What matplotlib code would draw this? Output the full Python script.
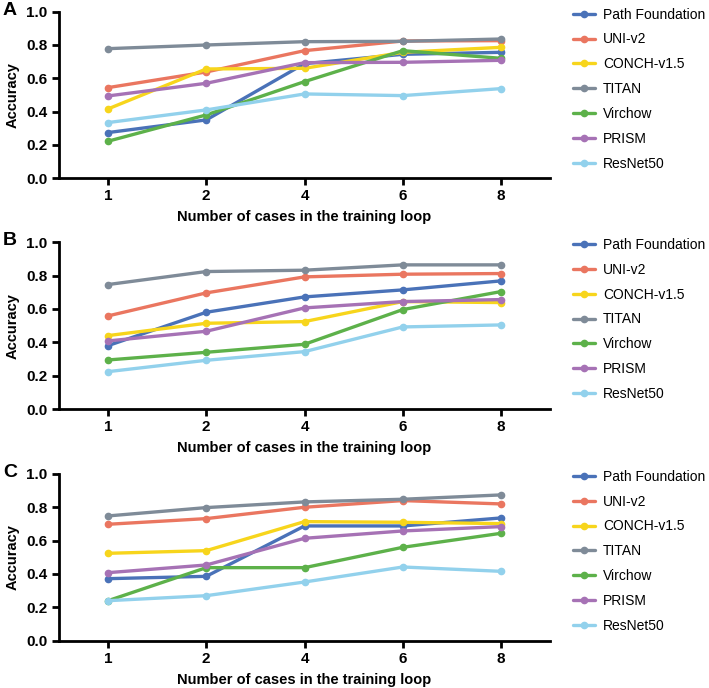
import numpy as np
import matplotlib.pyplot as plt

plt.rcParams['font.family'] = ['Liberation Sans', 'DejaVu Sans']

CASES = ["1", "2", "4", "6", "8"]
MODELS = ["Path Foundation", "UNI-v2", "CONCH-v1.5", "TITAN", "Virchow", "PRISM", "ResNet50"]
COLORS = ["#4a72b8", "#ea7660", "#f7d51c", "#7f8b98", "#5db14a", "#a672b5", "#92d1ec"]

# panel A
acc_a = {
    "Path Foundation": [0.274, 0.350, 0.688, 0.744, 0.756],
    "UNI-v2":          [0.544, 0.638, 0.766, 0.824, 0.826],
    "CONCH-v1.5":      [0.416, 0.656, 0.660, 0.756, 0.786],
    "TITAN":           [0.778, 0.800, 0.820, 0.822, 0.836],
    "Virchow":         [0.222, 0.380, 0.580, 0.766, 0.720],
    "PRISM":           [0.494, 0.570, 0.694, 0.696, 0.708],
    "ResNet50":        [0.334, 0.410, 0.506, 0.496, 0.538],
}
# panel B
acc_b = {
    "Path Foundation": [0.380, 0.580, 0.672, 0.714, 0.768],
    "UNI-v2":          [0.558, 0.696, 0.792, 0.808, 0.812],
    "CONCH-v1.5":      [0.440, 0.514, 0.524, 0.644, 0.638],
    "TITAN":           [0.746, 0.824, 0.832, 0.864, 0.864],
    "Virchow":         [0.294, 0.340, 0.388, 0.596, 0.704],
    "PRISM":           [0.408, 0.466, 0.606, 0.644, 0.656],
    "ResNet50":        [0.224, 0.292, 0.344, 0.492, 0.504],
}
# panel C
acc_c = {
    "Path Foundation": [0.372, 0.386, 0.688, 0.688, 0.736],
    "UNI-v2":          [0.698, 0.732, 0.800, 0.840, 0.820],
    "CONCH-v1.5":      [0.524, 0.540, 0.714, 0.710, 0.702],
    "TITAN":           [0.748, 0.798, 0.832, 0.848, 0.874],
    "Virchow":         [0.240, 0.438, 0.438, 0.560, 0.644],
    "PRISM":           [0.408, 0.454, 0.614, 0.658, 0.684],
    "ResNet50":        [0.240, 0.270, 0.352, 0.442, 0.416],
}

PANELS = [("A", acc_a), ("B", acc_b), ("C", acc_c)]
# axes boxes in figure fractions: left, bottom, width, height
BOXES = [
    [0.083, 0.741, 0.693, 0.242],
    [0.083, 0.4055, 0.693, 0.2425],
    [0.083, 0.0687, 0.693, 0.2425],
]

fig = plt.figure(figsize=(7.09, 6.88), dpi=100)
x = np.arange(len(CASES))

for (letter, data), box in zip(PANELS, BOXES):
    ax = fig.add_axes(box)
    for name, color in zip(MODELS, COLORS):
        ax.plot(x, data[name], color=color, lw=2.4, marker="o", ms=4.5,
                label=name, solid_capstyle="round")
    ax.set_xlim(-0.5, len(CASES) - 0.5)
    ax.set_ylim(0, 1.0)
    ax.set_xticks(x)
    ax.set_xticklabels(CASES)
    ax.set_yticks(np.arange(0, 1.01, 0.2))
    ax.set_yticklabels([f"{v:.1f}" for v in np.arange(0, 1.01, 0.2)])
    for s in ["top", "right"]:
        ax.spines[s].set_visible(False)
    for s in ["left", "bottom"]:
        ax.spines[s].set_linewidth(2.0)
    ax.tick_params(width=2.0, length=5, labelsize=11, pad=3)
    for lab in ax.get_xticklabels() + ax.get_yticklabels():
        lab.set_fontweight("bold")
    ax.set_ylabel("Accuracy", fontsize=10.5, fontweight="bold", labelpad=5)
    ax.set_xlabel("Number of cases in the training loop", fontsize=10.5,
                  fontweight="bold", labelpad=5)
    ax.legend(loc="upper left", bbox_to_anchor=(1.02, 1.10), frameon=False,
              fontsize=10, handlelength=1.6, handletextpad=0.6, labelspacing=0.78)
    fig.text(0.004, box[1] + box[3] + 0.002, letter, fontsize=14,
             fontweight="bold", va="center", ha="left")

fig.savefig("out.png", dpi=100)
